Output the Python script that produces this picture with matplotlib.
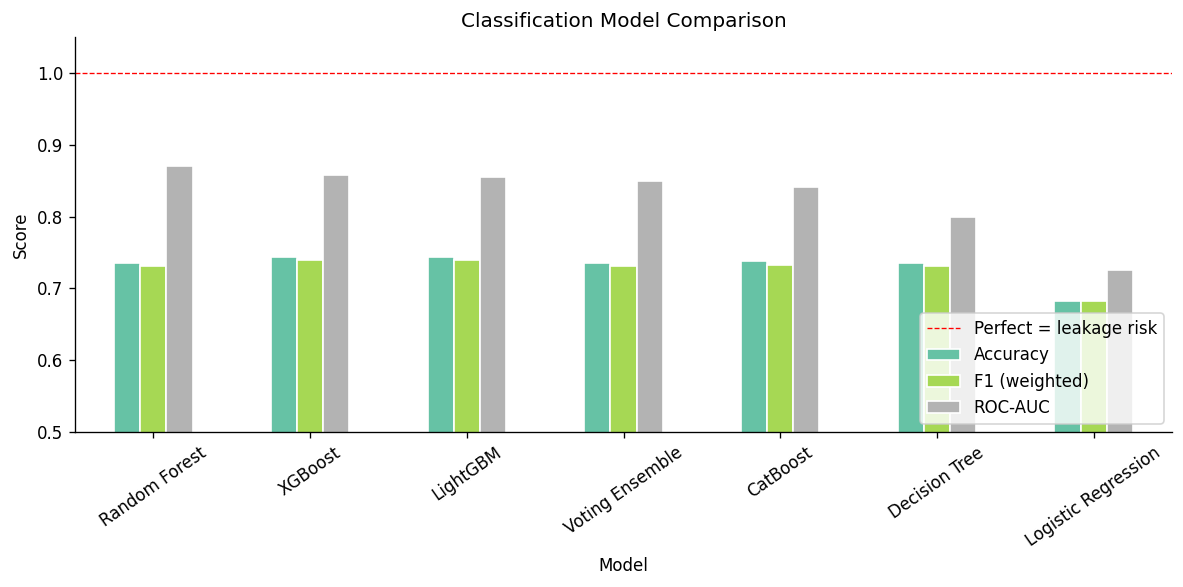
import numpy as np
import matplotlib
matplotlib.use('Agg')
import matplotlib.pyplot as plt


# Datos
modelos = ['Random Forest', 'XGBoost', 'LightGBM', 'Voting Ensemble',
           'CatBoost', 'Decision Tree', 'Logistic Regression']
accuracy = [0.736, 0.743, 0.743, 0.736, 0.7375, 0.735, 0.683]
f1_weighted = [0.7315, 0.740, 0.740, 0.7315, 0.733, 0.7305, 0.682]
roc_auc = [0.870, 0.858, 0.855, 0.850, 0.841, 0.800, 0.725]

series = [('Accuracy', accuracy, '#66c2a5'),
          ('F1 (weighted)', f1_weighted, '#a6d854'),
          ('ROC-AUC', roc_auc, '#b3b3b3')]


fig = plt.figure(figsize=(1183 / 120, 587 / 120), dpi=120)
ax = fig.add_axes([0.0634, 0.264, 0.9273, 0.673])

x = np.arange(len(modelos))
ancho = 0.5 / 3
for i, (nombre, valores, color) in enumerate(series):
    ax.bar(x + (i - 1) * ancho, valores, ancho, color=color,
           edgecolor='white', linewidth=1, label=nombre)

linea = ax.axhline(1.0, color='red', linestyle='--', linewidth=0.8,
                   label='Perfect = leakage risk')

ax.set_xticks(x)
ax.set_xticklabels(modelos, rotation=35)
ax.set_xlim(-0.5, len(modelos) - 0.5)
ax.set_ylim(0.5, 1.05)
ax.set_xlabel('Model')
ax.set_ylabel('Score')
ax.set_title('Classification Model Comparison')
ax.spines['top'].set_visible(False)
ax.spines['right'].set_visible(False)

handles, labels = ax.get_legend_handles_labels()
orden = [labels.index('Perfect = leakage risk'), labels.index('Accuracy'),
         labels.index('F1 (weighted)'), labels.index('ROC-AUC')]
ax.legend([handles[k] for k in orden], [labels[k] for k in orden],
          loc='lower right')

plt.savefig('out.png', dpi=120)
